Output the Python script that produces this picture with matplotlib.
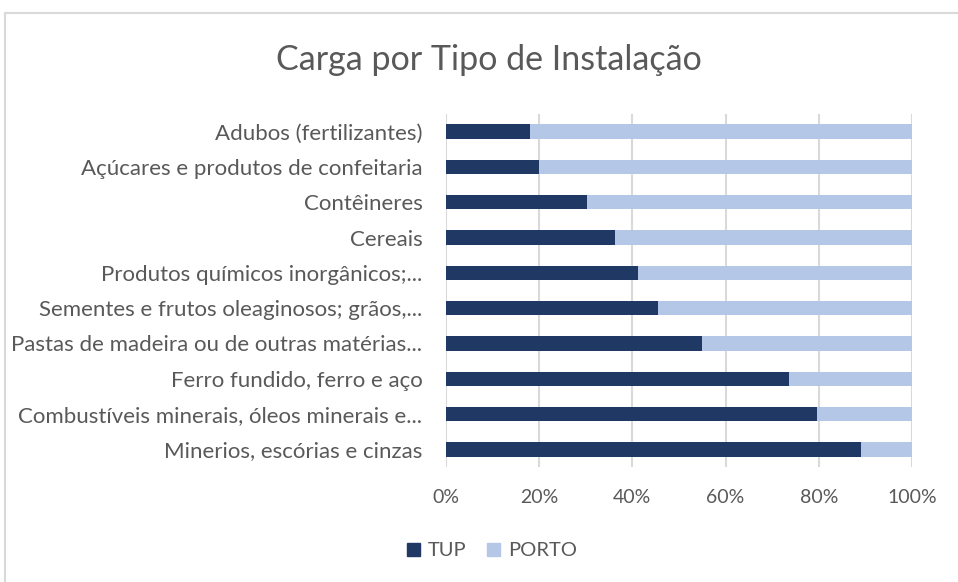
import matplotlib.pyplot as plt
from matplotlib.patches import Rectangle, Patch
from matplotlib.ticker import PercentFormatter

# Dados (proporção por tipo de instalação)
categorias = [
    "Adubos (fertilizantes)",
    "Açúcares e produtos de confeitaria",
    "Contêineres",
    "Cereais",
    "Produtos químicos inorgânicos;...",
    "Sementes e frutos oleaginosos; grãos,...",
    "Pastas de madeira ou de outras matérias...",
    "Ferro fundido, ferro e aço",
    "Combustíveis minerais, óleos minerais e...",
    "Minerios, escórias e cinzas",
]
tup = [0.180, 0.200, 0.302, 0.363, 0.412, 0.456, 0.550, 0.737, 0.797, 0.891]
porto = [1 - v for v in tup]

cor_tup = "#203864"
cor_porto = "#B4C7E7"
cor_texto = "#595959"
cor_grade = "#D9D9D9"

plt.rcParams['font.family'] = ['Lato', 'DejaVu Sans']

fig = plt.figure(figsize=(9.58, 5.82), dpi=100)
ax = fig.add_axes([446 / 958, 1 - 467 / 582, 466 / 958, 353 / 582])

y = range(len(categorias))
ax.barh(y, tup, height=0.41, color=cor_tup, label="TUP", zorder=3)
ax.barh(y, porto, left=tup, height=0.41, color=cor_porto, label="PORTO", zorder=3)

ax.set_ylim(len(categorias) - 0.5, -0.5)
ax.set_xlim(0, 1)
ax.set_xticks([0, 0.2, 0.4, 0.6, 0.8, 1.0])
ax.xaxis.set_major_formatter(PercentFormatter(1.0, decimals=0))
ax.set_yticks(list(y))
ax.set_yticklabels(categorias)
ax.tick_params(axis='y', length=0, pad=17, labelsize=16, labelcolor=cor_texto)
ax.tick_params(axis='x', length=0, pad=16, labelsize=14, labelcolor=cor_texto)
ax.grid(axis='x', color=cor_grade, linewidth=1.5, zorder=0)
for s in ax.spines.values():
    s.set_visible(False)

fig.text(489 / 958, 1 - 60 / 582, "Carga por Tipo de Instalação",
         ha='center', va='center', fontsize=24.5, color=cor_texto)

# Legenda
handles = [Patch(color=cor_tup, label="TUP"), Patch(color=cor_porto, label="PORTO")]
fig.legend(handles=handles, loc='center', bbox_to_anchor=(492 / 958, 1 - 551 / 582),
           ncol=2, frameon=False, fontsize=14.5, labelcolor=cor_texto,
           handlelength=0.65, handleheight=0.65, handletextpad=0.4, columnspacing=1.0)

# Borda do gráfico
fig.patches.append(Rectangle((5 / 958, -0.1), 1.2, 1 - 13 / 582 + 0.1,
                             transform=fig.transFigure, fill=False,
                             edgecolor=cor_grade, linewidth=1.5))

fig.savefig("out.png", dpi=100)
